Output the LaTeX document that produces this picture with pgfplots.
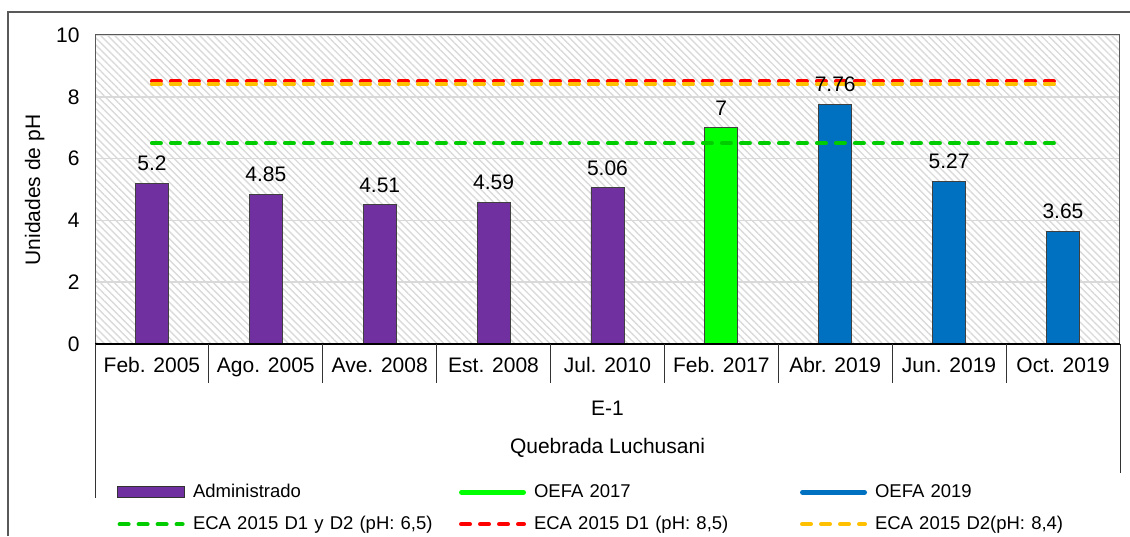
\documentclass[border=0pt]{standalone}
\usepackage{fontspec}
\setmainfont{Liberation Sans}
\usepackage{pgfplots}
\pgfplotsset{compat=1.18}
\usetikzlibrary{patterns.meta}

\definecolor{adm}{HTML}{7030A0}
\definecolor{oefaA}{HTML}{00FF00}
\definecolor{oefaB}{HTML}{0070C0}
\definecolor{ecaG}{HTML}{00CC00}
\definecolor{ecaR}{HTML}{FF0000}
\definecolor{ecaO}{HTML}{FFC000}
\definecolor{framec}{HTML}{595959}
\definecolor{hatch}{HTML}{DADADA}
\definecolor{gridc}{HTML}{D9D9D9}

\begin{document}
\begin{tikzpicture}[font=\fontsize{21}{25}\selectfont]
\useasboundingbox (0pt,0pt) rectangle (1130pt,536pt);
% outer chart frame
\draw[framec, line width=1.2pt] (8pt,0pt) -- (8pt,524pt) -- (1135pt,524pt);

\begin{axis}[
  at={(95pt,192pt)}, anchor=south west,
  width=1025pt, height=309pt, scale only axis,
  xmin=-0.5, xmax=8.5, ymin=0, ymax=10,
  ytick={0,2,4,6,8,10}, xtick={0,...,8},
  xticklabels={Feb. 2005, Ago. 2005, Ave. 2008, Est. 2008, Jul. 2010, Feb. 2017, Abr. 2019, Jun. 2019, Oct. 2019},
  tick style={draw=none},
  /pgf/number format/assume math mode=true,
  yticklabel style={xshift=-12pt},
  xticklabel style={yshift=-10pt},
  ymajorgrids, grid style={gridc, line width=1.5pt},
  axis line style={framec, line width=1pt},
  axis background/.style={pattern={Lines[angle=-45, distance=5pt, line width=1.4pt]}, pattern color=hatch},
  every node near coord/.append style={text=black, yshift=8.5pt},
  legend columns=3,
  legend cell align=left,
  legend style={at={(0.0215,-0.4515)}, anchor=north west, draw=none, fill=none,
    inner sep=0pt, column sep=8pt, row sep=15pt, font=\fontsize{18.5}{22}\selectfont,
    nodes={text width=258pt, inner xsep=0pt, inner ysep=0pt, text height=13.5pt, text depth=3.5pt, align=left}},
]
\addplot[ybar, bar width=33pt, bar shift=0pt, fill=adm, draw=black!75, line width=0.8pt, nodes near coords,
  legend image code/.code={\draw[fill=adm, draw=black!80, line width=0.8pt] (0pt,-5.5pt) rectangle (67pt,5.5pt);}]
  coordinates {(0,5.2) (1,4.85) (2,4.51) (3,4.59) (4,5.06)};
\addlegendentry{Administrado}
\addplot[ybar, bar width=33pt, bar shift=0pt, fill=oefaA, draw=black!75, line width=0.8pt, nodes near coords,
  legend image code/.code={\draw[oefaA, line width=5pt, line cap=round] (2.5pt,0pt) -- (64.5pt,0pt);}]
  coordinates {(5,7)};
\addlegendentry{OEFA 2017}
\addplot[ybar, bar width=33pt, bar shift=0pt, fill=oefaB, draw=black!75, line width=0.8pt, nodes near coords,
  legend image code/.code={\draw[oefaB, line width=5pt, line cap=round] (2.5pt,0pt) -- (64.5pt,0pt);}]
  coordinates {(6,7.76) (7,5.27) (8,3.65)};
\addlegendentry{OEFA 2019}
\addplot[ecaG, line width=4pt, dash pattern=on 9pt off 10pt, line cap=round,
  legend image code/.code={\draw[ecaG, line width=4pt, dash pattern=on 9pt off 10pt, line cap=round] (2pt,0pt) -- (65pt,0pt);}]
  coordinates {(0,6.5) (8,6.5)};
\addlegendentry{ECA 2015 D1 y D2 (pH: 6,5)}
\addplot[ecaR, line width=4pt, dash pattern=on 9pt off 10pt, line cap=round,
  legend image code/.code={\draw[ecaR, line width=4pt, dash pattern=on 9pt off 10pt, line cap=round] (2pt,0pt) -- (65pt,0pt);}]
  coordinates {(0,8.5) (8,8.5)};
\addlegendentry{ECA 2015 D1 (pH: 8,5)}
\addplot[ecaO, line width=4pt, dash pattern=on 9pt off 10pt, line cap=round,
  legend image code/.code={\draw[ecaO, line width=4pt, dash pattern=on 9pt off 10pt, line cap=round] (2pt,0pt) -- (65pt,0pt);}]
  coordinates {(0,8.4) (8,8.4)};
\addlegendentry{ECA 2015 D2(pH: 8,4)}
\draw[black, line width=1.5pt] (rel axis cs:0,0) -- (rel axis cs:1,0);
\end{axis}

% category axis separators
\foreach \k in {1,...,8}
  \draw[black!80, line width=1pt] ({95pt+\k*113.889pt},192pt) -- ({95pt+\k*113.889pt},153pt);
\draw[black!80, line width=1pt] (95pt,192pt) -- (95pt,38pt);
\draw[black!80, line width=1pt] (1120pt,192pt) -- (1120pt,63pt);
\node[anchor=base] at (607.5pt,121pt) {E-1};
\node[anchor=base] at (607.5pt,83pt) {Quebrada Luchusani};
\node[rotate=90, anchor=base] at (40pt,346pt) {Unidades de pH};
\end{tikzpicture}
\end{document}
